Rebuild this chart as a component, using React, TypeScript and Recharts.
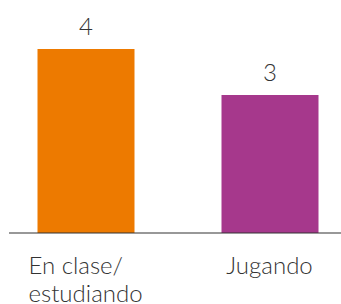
import React from "react";
import { BarChart, Bar, XAxis, YAxis, Cell, LabelList } from "recharts";

const categories = ["En clase/\nestudiando", "Jugando"];
const values = [4, 3];
const colors = ["#ED7A00", "#A6388C"];

const data = categories.map((name, i) => ({ name, value: values[i] }));

const FONT = "Lato, 'Open Sans', sans-serif";
const TICK_SIZE = 24;

let ctx: CanvasRenderingContext2D | null = null;
const measure = (s: string) => {
  if (!ctx && typeof document !== "undefined") {
    ctx = document.createElement("canvas").getContext("2d");
  }
  if (!ctx) return s.length * TICK_SIZE * 0.5;
  ctx.font = `300 ${TICK_SIZE}px Lato`;
  return ctx.measureText(s).width;
};

const Tick = (props: any) => {
  const { x, y, payload } = props;
  const lines = String(payload.value).split("\n");
  const maxW = Math.max(...lines.map(measure));
  const left = x - maxW / 2;
  return (
    <text
      x={left}
      y={y}
      textAnchor="start"
      fill="#333"
      fontFamily={FONT}
      fontWeight={300}
      fontSize={TICK_SIZE}
    >
      {lines.map((l, i) => (
        <tspan key={i} x={left} dy={i === 0 ? 41 : 28}>
          {l}
        </tspan>
      ))}
    </text>
  );
};

export default function App() {
  return (
    <div style={{ position: "absolute", left: 0, top: 0, background: "#fff" }}>
      <BarChart
        width={341}
        height={304}
        data={data}
        margin={{ top: 49, right: 0, left: 9, bottom: 0 }}
      >
        <XAxis
          dataKey="name"
          height={71}
          interval={0}
          tickLine={false}
          tickSize={0}
          tickMargin={0}
          axisLine={{ stroke: "#333", strokeWidth: 1.2 }}
          padding={{ left: -15.5, right: -20.5 }}
          tick={<Tick />}
        />
        <YAxis hide domain={[0, 4]} />
        <Bar dataKey="value" barSize={97} isAnimationActive={false}>
          {data.map((d, i) => (
            <Cell key={i} fill={colors[i]} />
          ))}
          <LabelList
            dataKey="value"
            position="top"
            offset={14}
            fill="#333"
            fontFamily={FONT}
            fontWeight={300}
            fontSize={24}
          />
        </Bar>
      </BarChart>
    </div>
  );
}
